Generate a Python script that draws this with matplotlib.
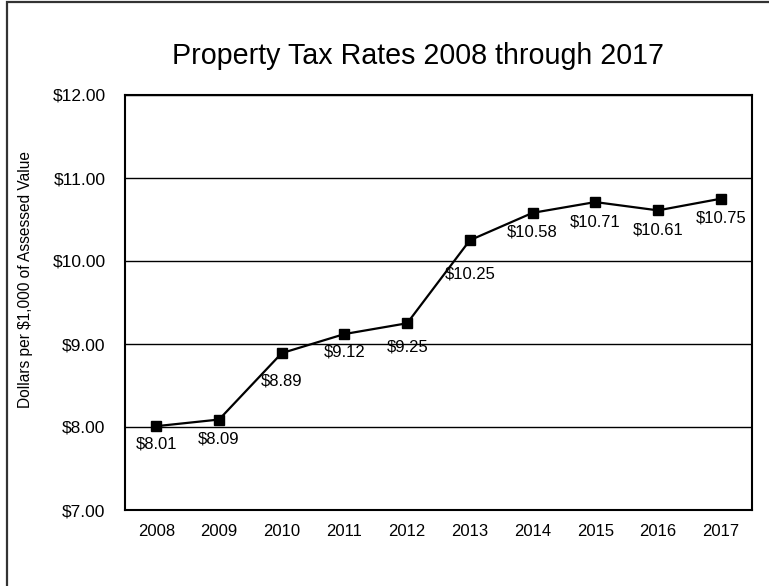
import matplotlib
matplotlib.use("Agg")
import matplotlib.pyplot as plt
from matplotlib.patches import Rectangle

plt.rcParams["font.family"] = ["Liberation Sans", "DejaVu Sans"]

years = ["2008", "2009", "2010", "2011", "2012", "2013", "2014", "2015", "2016", "2017"]
rates = [8.01, 8.09, 8.89, 9.12, 9.25, 10.25, 10.58, 10.71, 10.61, 10.75]
# how far each value label sits below its marker (points)
label_drop = [13, 14, 20, 13, 17, 24, 14, 14, 14, 14]

fig = plt.figure(figsize=(7.69, 5.86), dpi=100)
ax = fig.add_axes([125 / 769, 1 - 510 / 586, 627 / 769, 415 / 586])

x = list(range(len(years)))
ax.plot(x, rates, color="black", linewidth=1.6, marker="s",
        markersize=6.5, zorder=3)

for i, v in enumerate(rates):
    ax.annotate(f"${v:.2f}", (i, v), xytext=(0, -label_drop[i]),
                textcoords="offset points", ha="center", va="center",
                fontsize=12)

ax.set_xlim(-0.5, len(years) - 0.5)
ax.set_ylim(7, 12)
ax.set_xticks(x)
ax.set_xticklabels(years, fontsize=12)
ax.set_yticks([7, 8, 9, 10, 11, 12])
ax.set_yticklabels([f"${t:.2f}" for t in range(7, 13)], fontsize=12.5)
ax.tick_params(length=0)
ax.tick_params(axis="y", pad=14)
ax.tick_params(axis="x", pad=10)
ax.yaxis.grid(True, color="black", linewidth=1)
ax.set_axisbelow(True)
for s in ax.spines.values():
    s.set_linewidth(1.5)

fig.text(418 / 769, 1 - 56 / 586, "Property Tax Rates 2008 through 2017",
         ha="center", va="center", fontsize=20.6)
fig.text(26 / 769, 1 - 280 / 586, "Dollars per $1,000 of Assessed Value",
         ha="center", va="center", rotation=90, fontsize=11.2)

# chart frame
fig.patches.append(Rectangle((6.5 / 769, -0.1), 1.2, 1.1 - 1.5 / 586,
                             transform=fig.transFigure, fill=False,
                             edgecolor="#333333", linewidth=1.6))

fig.savefig("out.png", dpi=100)
